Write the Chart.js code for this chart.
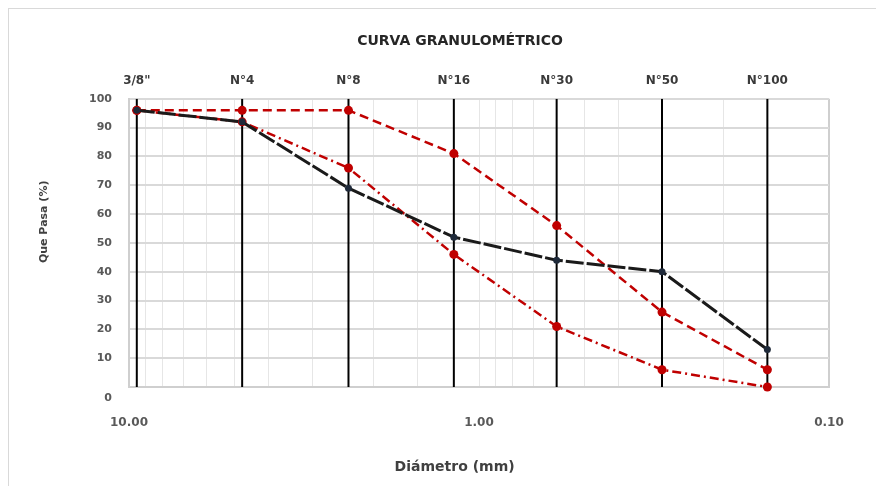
<!DOCTYPE html>
<html>
<head>
<meta charset="utf-8">
<script src="https://cdn.jsdelivr.net/npm/chart.js@4.4.1/dist/chart.umd.min.js"></script>
<style>
  html, body { margin: 0; padding: 0; background: #fff; }
  #wrap { position: relative; width: 876px; height: 486px; overflow: hidden; }
  #wrap canvas { position: absolute; left: 0; top: 0; }
  #frame { position: absolute; left: 8px; top: 8px; width: 900px; height: 520px;
           border-left: 1px solid #d9d9d9; border-top: 1px solid #d9d9d9; pointer-events: none; }
</style>
</head>
<body>
<div id="wrap">
  <canvas id="curva" width="876" height="486"></canvas>
  <div id="frame"></div>
</div>
<script>
// Tamices (abertura en mm) y sus nombres
const sieveLabels = ['3/8"', 'N°4', 'N°8', 'N°16', 'N°30', 'N°50', 'N°100'];
const sieveSizes  = [9.5, 4.75, 2.36, 1.18, 0.6, 0.3, 0.15];

// Porcentaje que pasa
const muestra        = [96, 92, 69, 52, 44, 40, 13];
const limiteSuperior = [96, 96, 96, 81, 56, 26, 6];
const limiteInferior = [96, 92, 76, 46, 21, 6, 0];

// Ejes
const yMin = 0, yMax = 100, yStep = 10;
const xMin = 0.1, xMax = 10;
const xLabeledTicks = [10, 1, 0.1];

const RED = '#c00000';
const FONT = '"DejaVu Sans", sans-serif';

// Desplaza un título de eje respecto al centro añadiendo espacios en un extremo
const pad = n => ' '.repeat(n);

const toPoints = arr => sieveSizes.map((d, i) => ({ x: d, y: arr[i] }));

// Líneas verticales en cada tamiz (segmentos separados por huecos)
const sieveLines = sieveSizes.flatMap(d => [{ x: d, y: yMin }, { x: d, y: yMax }, { x: d, y: null }]);

new Chart(document.getElementById('curva'), {
  type: 'line',
  data: {
    datasets: [
      {
        label: 'Muestra',
        data: toPoints(muestra),
        borderColor: '#1a1a1a',
        borderWidth: 3,
        borderDash: [18, 3],
        pointRadius: 3.5,
        pointBorderWidth: 0,
        pointBackgroundColor: '#1f2a3a',
        order: 0,
        clip: false
      },
      {
        label: 'Límite superior',
        data: toPoints(limiteSuperior),
        borderColor: RED,
        borderWidth: 2.5,
        borderDash: [9, 5],
        pointRadius: 4.5,
        pointBorderWidth: 0,
        pointBackgroundColor: RED,
        order: 1,
        clip: false
      },
      {
        label: 'Límite inferior',
        data: toPoints(limiteInferior),
        borderColor: RED,
        borderWidth: 2.5,
        borderDash: [9, 4, 2, 4],
        pointRadius: 4.5,
        pointBorderWidth: 0,
        pointBackgroundColor: RED,
        order: 2,
        clip: false
      },
      {
        label: 'Tamices',
        data: sieveLines,
        borderColor: '#000000',
        borderWidth: 2,
        pointRadius: 0,
        spanGaps: false,
        order: 10
      }
    ]
  },
  options: {
    responsive: false,
    animation: false,
    layout: { padding: { left: 50, right: 6, top: 8, bottom: 6 } },
    plugins: {
      legend: { display: false },
      tooltip: { enabled: false },
      title: {
        display: true,
        text: 'CURVA GRANULOMÉTRICO',
        color: '#262626',
        font: { family: FONT, size: 14, weight: 'bold' },
        padding: { top: 25, bottom: 0 }
      }
    },
    scales: {
      x: {
        type: 'logarithmic',
        position: 'bottom',
        min: xMin,
        max: xMax,
        reverse: true,
        afterFit: s => { s.height = 93; },
        grid: {
          drawTicks: false,
          color: ctx => (ctx.tick && ctx.tick.value === xMin) ? '#cfcfcf' : '#e6e6e6',
          lineWidth: ctx => (ctx.tick && ctx.tick.value === xMin) ? 2 : 1
        },
        border: { color: '#cfcfcf', width: 2 },
        ticks: {
          autoSkip: false,
          maxRotation: 0,
          padding: 29,
          color: '#595959',
          font: { family: FONT, size: 12, weight: 'bold' },
          callback: v => (xLabeledTicks.some(t => Math.abs(t - v) < 1e-9) ? Number(v).toFixed(2) : '')
        },
        title: {
          display: true,
          text: 'Diámetro (mm)' + pad(10),
          color: '#404040',
          font: { family: FONT, size: 14, weight: 'bold' },
          padding: { top: 0, bottom: 4 }
        }
      },
      x2: {
        type: 'logarithmic',
        position: 'top',
        axis: 'x',
        min: xMin,
        max: xMax,
        reverse: true,
        afterBuildTicks: s => { s.ticks = sieveSizes.map(v => ({ value: v })); },
        afterFit: s => { s.height = 49; },
        grid: { display: false, drawTicks: false },
        border: { display: false },
        ticks: {
          autoSkip: false,
          maxRotation: 0,
          padding: 11,
          color: '#3a3a3a',
          font: { family: FONT, size: 12, weight: 'bold' },
          callback: (v, i) => sieveLabels[i]
        }
      },
      y: {
        type: 'linear',
        position: 'left',
        min: yMin,
        max: yMax,
        afterFit: s => { s.width = 79; },
        grid: { drawTicks: false, color: '#d9d9d9', lineWidth: 2 },
        border: { color: '#cfcfcf', width: 2 },
        ticks: {
          stepSize: yStep,
          autoSkip: false,
          padding: 17,
          color: '#595959',
          font: { family: FONT, size: 11, weight: 'bold', lineHeight: 2 },
          callback: v => (v === 0 ? ['', '0'] : String(v))
        },
        title: {
          display: true,
          text: pad(11) + 'Que Pasa (%)',
          color: '#404040',
          font: { family: FONT, size: 11, weight: 'bold' },
          padding: { top: -12, bottom: 0 }
        }
      },
      yR: {
        type: 'linear',
        position: 'right',
        axis: 'y',
        min: yMin,
        max: yMax,
        afterFit: s => { s.width = 41; },
        grid: { display: false, drawTicks: false },
        border: { display: false },
        ticks: { display: false }
      }
    }
  }
});
</script>
</body>
</html>
